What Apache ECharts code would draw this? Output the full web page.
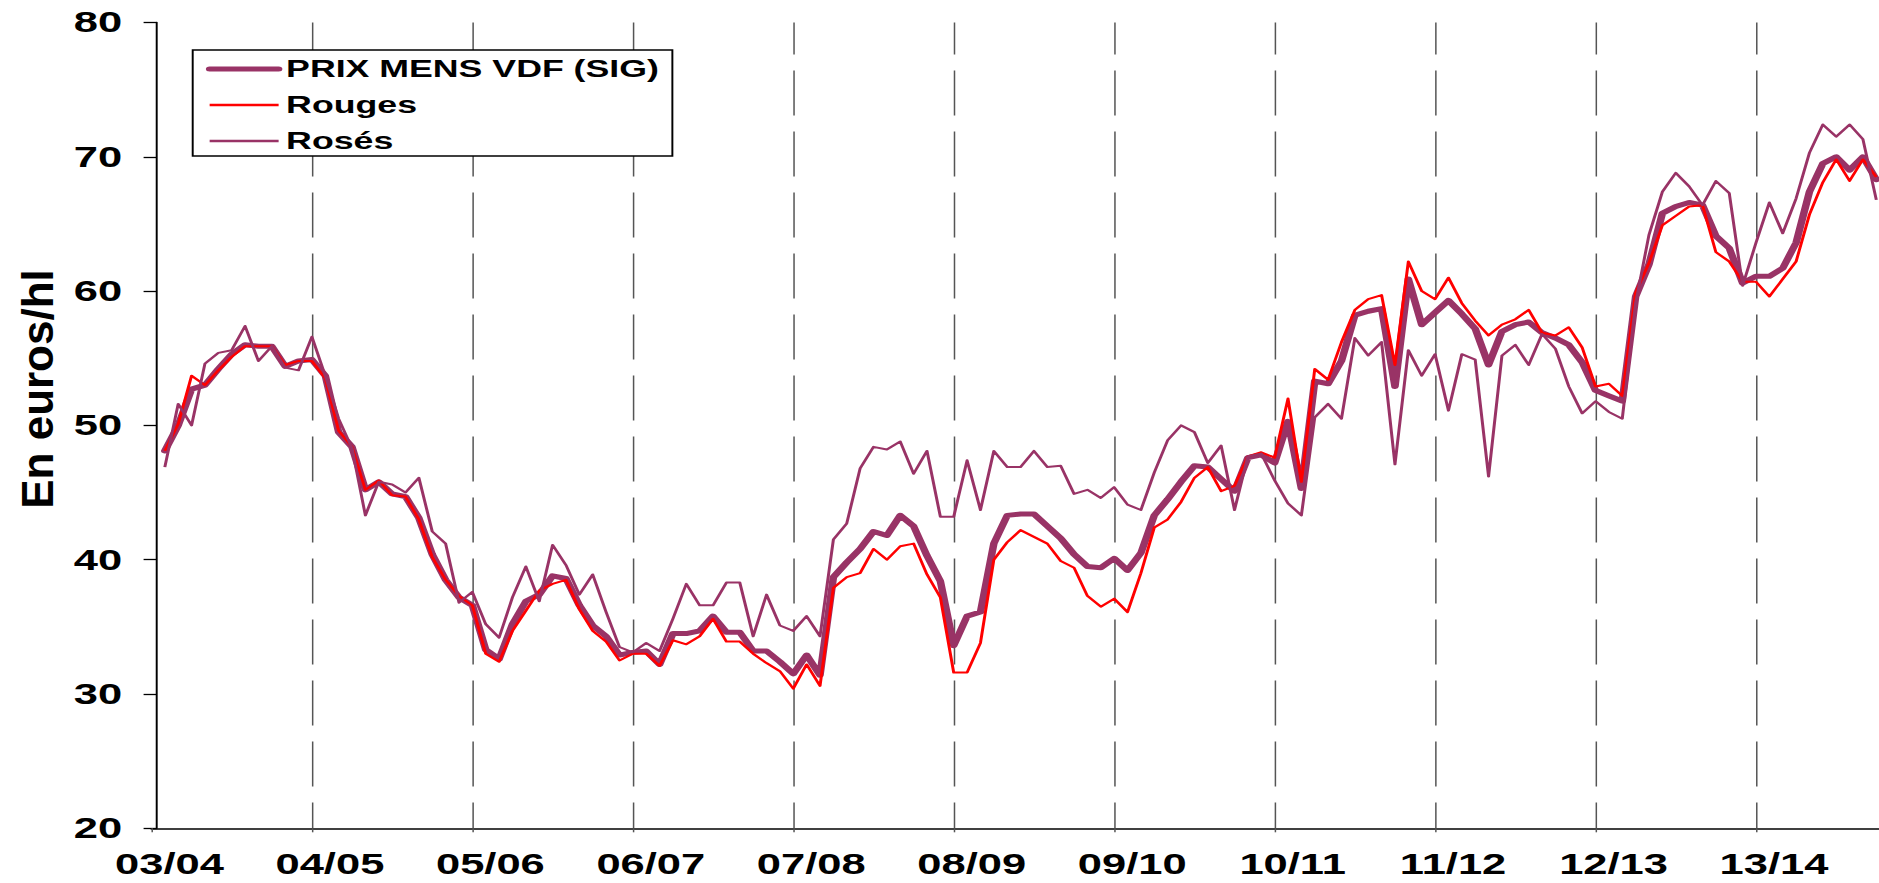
<!DOCTYPE html>
<html>
<head>
<meta charset="utf-8">
<title>Prix mensuels VDF</title>
<script src="https://cdn.jsdelivr.net/npm/echarts@6/dist/echarts.min.js"></script>
<style>
    html, body { margin: 0; padding: 0; background: #fff; overflow: hidden; }
    /* the source picture is stretched sideways: draw the chart narrow, then widen the box */
    #main { width: 1253px; height: 883px; transform: scaleX(1.4996); transform-origin: 0 0; }
</style>
</head>
<body>
<div id="main"></div>
<script>
// tick labels, one per campaign year
const yearLabels = ['03/04', '04/05', '05/06', '06/07', '07/08', '08/09', '09/10', '10/11', '11/12', '12/13', '13/14'];

// monthly prices, euros/hl
const prixMens = [
    48.1, 50.0, 52.7, 53.0, 54.2, 55.3, 56.0, 55.9, 55.9, 54.4, 54.8, 54.9,
    53.7, 49.5, 48.4, 45.2, 45.8, 44.9, 44.7, 43.1, 40.4, 38.5, 37.2, 36.6,
    33.3, 32.6, 35.2, 36.9, 37.4, 38.8, 38.6, 36.6, 35.1, 34.3, 32.9, 33.1,
    33.2, 32.2, 34.5, 34.5, 34.7, 35.8, 34.6, 34.6, 33.2, 33.2, 32.4, 31.5,
    32.9, 31.4, 38.7, 39.8, 40.8, 42.1, 41.8, 43.3, 42.5, 40.3, 38.4, 33.6,
    35.8, 36.1, 41.2, 43.3, 43.4, 43.4, 42.5, 41.6, 40.4, 39.5, 39.4, 40.1,
    39.2, 40.5, 43.3, 44.5, 45.8, 47.0, 46.9, 46.0, 45.1, 47.6, 47.8, 47.2,
    50.3, 45.3, 53.3, 53.1, 54.8, 58.2, 58.5, 58.7, 52.9, 60.9, 57.5, 58.4,
    59.3, 58.3, 57.2, 54.5, 57.0, 57.5, 57.7, 56.9, 56.5, 56.0, 54.7, 52.6,
    52.2, 51.8, 59.6, 62.0, 65.8, 66.3, 66.6, 66.4, 64.1, 63.2, 60.6, 61.1,
    61.1, 61.7, 63.6, 67.4, 69.5, 70.0, 69.0, 70.0, 68.3
];
const rouges = [
    48.1, 50.1, 53.7, 53.0, 54.1, 55.1, 55.9, 55.9, 55.9, 54.5, 54.8, 54.8,
    53.5, 49.6, 48.4, 45.2, 45.9, 44.8, 44.7, 43.0, 40.2, 38.5, 37.3, 36.6,
    33.0, 32.4, 34.7, 36.2, 37.7, 38.2, 38.5, 36.3, 34.7, 33.9, 32.5, 33.0,
    33.0, 32.1, 34.0, 33.7, 34.3, 35.6, 33.9, 33.9, 33.0, 32.3, 31.7, 30.4,
    32.2, 30.6, 37.9, 38.7, 39.0, 40.8, 40.0, 41.0, 41.2, 38.9, 37.2, 31.6,
    31.6, 33.8, 40.0, 41.3, 42.2, 41.7, 41.2, 39.9, 39.4, 37.3, 36.5, 37.1,
    36.1, 39.0, 42.4, 43.0, 44.3, 46.1, 46.9, 45.1, 45.5, 47.7, 48.0, 47.6,
    52.0, 45.8, 54.2, 53.4, 56.2, 58.6, 59.4, 59.7, 54.5, 62.2, 60.0, 59.4,
    61.0, 59.1, 57.8, 56.7, 57.5, 57.9, 58.6, 56.9, 56.7, 57.3, 55.8, 52.9,
    53.1, 52.2, 59.9, 62.1, 64.9, 65.6, 66.3, 66.4, 62.9, 62.2, 60.7, 60.7,
    59.6, 60.9, 62.2, 65.7, 68.1, 69.8, 68.2, 69.8, 68.5
];
const roses = [
    46.9, 51.6, 50.0, 54.6, 55.4, 55.6, 57.4, 54.8, 55.9, 54.3, 54.1, 56.6,
    53.7, 50.5, 48.3, 43.3, 45.8, 45.6, 45.0, 46.1, 42.1, 41.2, 36.8, 37.6,
    35.2, 34.2, 37.2, 39.5, 36.9, 41.1, 39.6, 37.4, 38.9, 36.1, 33.5, 33.1,
    33.8, 33.2, 35.6, 38.2, 36.6, 36.6, 38.3, 38.3, 34.3, 37.4, 35.1, 34.7,
    35.8, 34.3, 41.5, 42.7, 46.8, 48.4, 48.2, 48.8, 46.4, 48.1, 43.2, 43.2,
    47.4, 43.7, 48.1, 46.9, 46.9, 48.1, 46.9, 47.0, 44.9, 45.2, 44.6, 45.4,
    44.1, 43.7, 46.5, 48.9, 50.0, 49.5, 47.2, 48.5, 43.7, 47.7, 47.9, 45.9,
    44.2, 43.3, 50.6, 51.6, 50.5, 56.5, 55.2, 56.2, 47.1, 55.6, 53.7, 55.3,
    51.1, 55.3, 54.9, 46.2, 55.2, 56.0, 54.5, 56.8, 55.7, 52.9, 50.9, 51.8,
    51.0, 50.5, 59.1, 64.2, 67.4, 68.8, 67.8, 66.4, 68.2, 67.3, 60.4, 63.6,
    66.6, 64.3, 66.9, 70.3, 72.4, 71.5, 72.4, 71.3, 66.8
];

const STRETCH = 1879 / 1253;
const FONT = '"Liberation Sans", Arial, sans-serif';
const PLUM = '#993366';

// month n sits at x = n + 1, a year is 12 units on the x axis
function toPoints(arr) {
    return arr.map(function (v, i) {
        return [i + 1, v];
    });
}

let chart = echarts.init(document.getElementById('main'), null, { renderer: 'svg' });

let option = {
    animation: false,
    backgroundColor: '#fff',
    grid: {
        left: 101,
        right: 0,
        top: 22.5,
        bottom: 54.7
    },
    legend: {
        orient: 'vertical',
        left: 128.5,
        top: 50,
        padding: [7, 9, 3, 8.8],
        itemWidth: 46,
        itemHeight: 24,
        itemGap: 12,
        backgroundColor: '#fff',
        borderColor: '#000',
        borderWidth: 1.3,
        borderRadius: 0,
        itemStyle: { opacity: 0 },   // line only, no dot
        textStyle: {
            fontFamily: FONT,
            fontWeight: 'bold',
            fontSize: 23.8,
            lineHeight: 24,
            color: '#000'
        },
        data: [
            { name: 'PRIX MENS VDF (SIG)', lineStyle: { width: 5, cap: 'round' } },
            { name: 'Rouges', lineStyle: { width: 2.5 } },
            { name: 'Rosés', lineStyle: { width: 2.5 } }
        ]
    },
    xAxis: {
        type: 'value',
        min: 0,
        max: 129.2,
        interval: 12,
        axisLine: { onZero: false, lineStyle: { color: '#000', width: 1.5 } },
        axisTick: { show: true, length: 4, lineStyle: { color: '#555', width: 1 } },
        axisLabel: {
            margin: 25,
            lineHeight: 22,
            padding: [0, 0, 0, 24],
            fontFamily: FONT,
            fontWeight: 'bold',
            fontSize: 29,
            color: '#000',
            showMinLabel: true,
            showMaxLabel: false,
            formatter: function (v) {
                return v % 12 === 0 ? (yearLabels[v / 12] || '') : '';
            }
        },
        splitLine: {
            show: true,
            showMinLine: false,
            showMaxLine: false,
            lineStyle: { color: '#555', width: 1, type: [45, 16], dashOffset: 12.8 }
        }
    },
    yAxis: {
        type: 'value',
        min: 20,
        max: 80,
        interval: 10,
        offset: -3.45,
        axisLine: { show: true, onZero: false, lineStyle: { color: '#000', width: 1.3 } },
        axisTick: { show: true, length: 8.7, lineStyle: { color: '#000', width: 1.3 } },
        axisLabel: {
            margin: 23,
            fontFamily: FONT,
            fontWeight: 'bold',
            fontSize: 29,
            color: '#000'
        },
        splitLine: { show: false }
    },
    // axis title is not stretched in the source, so undo the widening for it
    graphic: [{
        type: 'text',
        x: 25.3,
        y: 389,
        rotation: Math.PI / 2,
        scaleY: 1 / STRETCH,
        style: {
            text: 'En euros/hl',
            fontFamily: FONT,
            fontWeight: 'bold',
            fontSize: 44,
            fill: '#000',
            align: 'center',
            verticalAlign: 'middle',
            textAlign: 'center',
            textVerticalAlign: 'middle'
        }
    }],
    series: [{
        name: 'PRIX MENS VDF (SIG)',
        type: 'line',
        symbol: 'none',
        data: toPoints(prixMens),
        itemStyle: { color: PLUM },
        lineStyle: { color: PLUM, width: 5, cap: 'round', join: 'round' }
    }, {
        name: 'Rouges',
        type: 'line',
        symbol: 'none',
        data: toPoints(rouges),
        itemStyle: { color: '#ff0000' },
        lineStyle: { color: '#ff0000', width: 2, join: 'round' }
    }, {
        name: 'Rosés',
        type: 'line',
        symbol: 'none',
        data: toPoints(roses),
        itemStyle: { color: PLUM },
        lineStyle: { color: PLUM, width: 2, join: 'round' }
    }]
};

chart.setOption(option);
window.onresize = function () {
    chart.resize();
};
</script>
</body>
</html>
